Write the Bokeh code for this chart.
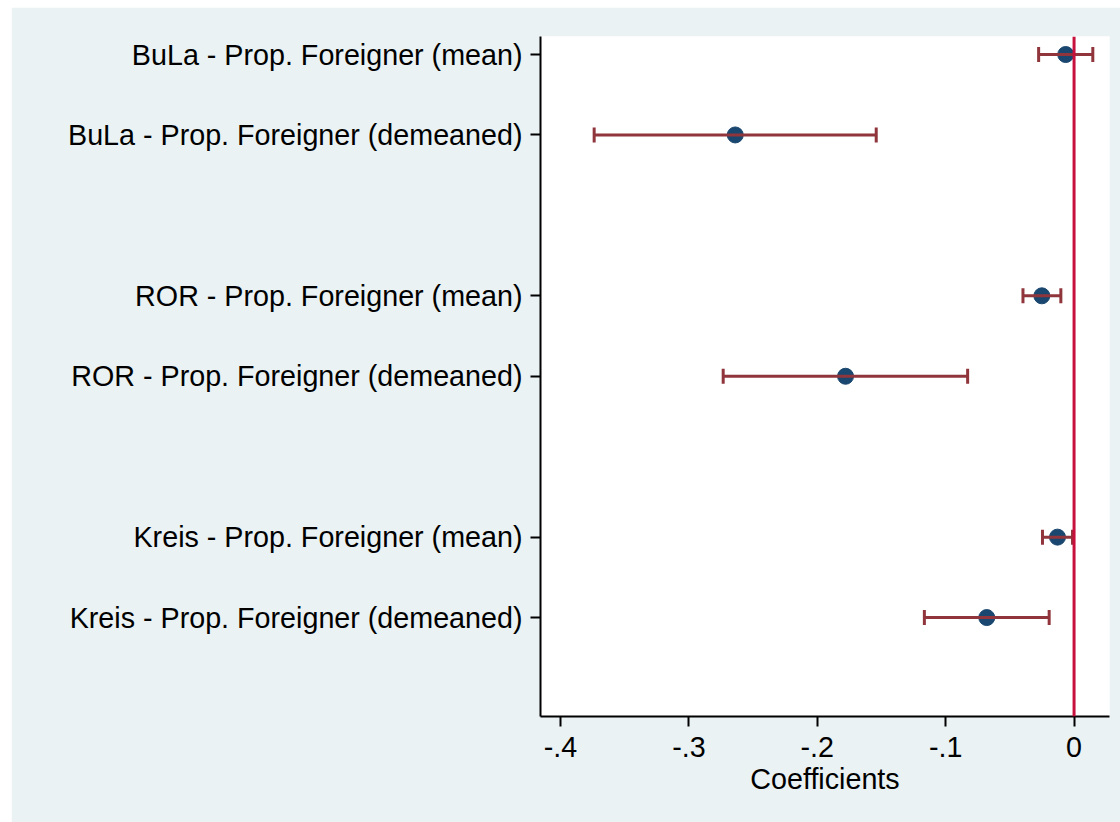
from bokeh.plotting import figure
from bokeh.models import ColumnDataSource, Range1d, FixedTicker, Span, Whisker, TeeHead
from bokeh.embed import file_html
from bokeh.resources import INLINE

# ---- data ----
groups = ["BuLa", "ROR", "Kreis"]
variants = ["mean", "demeaned"]
coef = [-0.0065, -0.2639, -0.0251, -0.1780, -0.0129, -0.0680]
ci_low = [-0.0276, -0.3738, -0.0398, -0.2733, -0.0246, -0.1166]
ci_high = [0.0146, -0.1541, -0.0103, -0.0829, -0.0012, -0.0194]
x_ticks = [-0.4, -0.3, -0.2, -0.1, 0.0]
x_tick_labels = ["-.4", "-.3", "-.2", "-.1", "0"]

labels = []
ypos = []
for gi, g in enumerate(groups):
    for vi, v in enumerate(variants):
        labels.append(f"{g} - Prop. Foreigner ({v})")
        ypos.append(1 + gi * (len(variants) + 1) + vi)

src = ColumnDataSource(dict(y=ypos, coef=coef, lo=ci_low, hi=ci_high, label=labels))

FONT = "Liberation Sans"
FS = "28.7px"
BG = "#EAF2F3"
NAVY = "#1A476F"
MAROON = "#90353B"
RED = "#C8103C"

p = figure(width=1109, height=815, output_backend="svg", toolbar_location=None,
           x_range=Range1d(-0.4156, 0.0276), y_range=Range1d(9.23, 0.776),
           min_border_left=529, min_border_right=11, min_border_top=29, min_border_bottom=106,
           margin=(7, 0, 0, 11))
p.background_fill_color = "white"
p.border_fill_color = BG
p.outline_line_color = None
p.xgrid.visible = False
p.ygrid.visible = False

# CI whiskers
w = Whisker(source=src, base="y", lower="lo", upper="hi", dimension="width",
            line_color=MAROON, line_width=3,
            lower_head=TeeHead(size=15, line_color=MAROON, line_width=3),
            upper_head=TeeHead(size=15, line_color=MAROON, line_width=3),
            level="glyph")
p.add_layout(w)

p.scatter(x="coef", y="y", source=src, size=16, fill_color=NAVY, line_color=NAVY, level="glyph")

p.add_layout(Span(location=0, dimension="height", line_color=RED, line_width=3))

# x axis
xa = p.xaxis[0]
xa.ticker = FixedTicker(ticks=x_ticks)
xa.major_label_overrides = {t: l for t, l in zip(x_ticks, x_tick_labels)}
xa.axis_label = "Coefficients"
xa.axis_label_text_font = FONT
xa.axis_label_text_font_style = "normal"
xa.axis_label_text_font_size = FS
xa.axis_label_text_color = "black"
xa.axis_label_standoff = 3
xa.major_label_text_font = FONT
xa.major_label_text_font_size = FS
xa.major_label_text_color = "black"
xa.major_label_standoff = 10
xa.minor_tick_line_color = None
xa.major_tick_in = 0
xa.major_tick_out = 10
xa.major_tick_line_width = 2
xa.axis_line_width = 2
xa.axis_line_color = "black"
xa.major_tick_line_color = "black"

# y axis
ya = p.yaxis[0]
ya.ticker = FixedTicker(ticks=ypos)
ya.major_label_overrides = {y: l for y, l in zip(ypos, labels)}
ya.major_label_text_font = FONT
ya.major_label_text_font_size = FS
ya.major_label_text_color = "black"
ya.major_label_standoff = 8
ya.minor_tick_line_color = None
ya.major_tick_in = 0
ya.major_tick_out = 10
ya.major_tick_line_width = 2
ya.axis_line_width = 2
ya.axis_line_color = "black"
ya.major_tick_line_color = "black"

open("out.html", "w").write(file_html(p, INLINE))
